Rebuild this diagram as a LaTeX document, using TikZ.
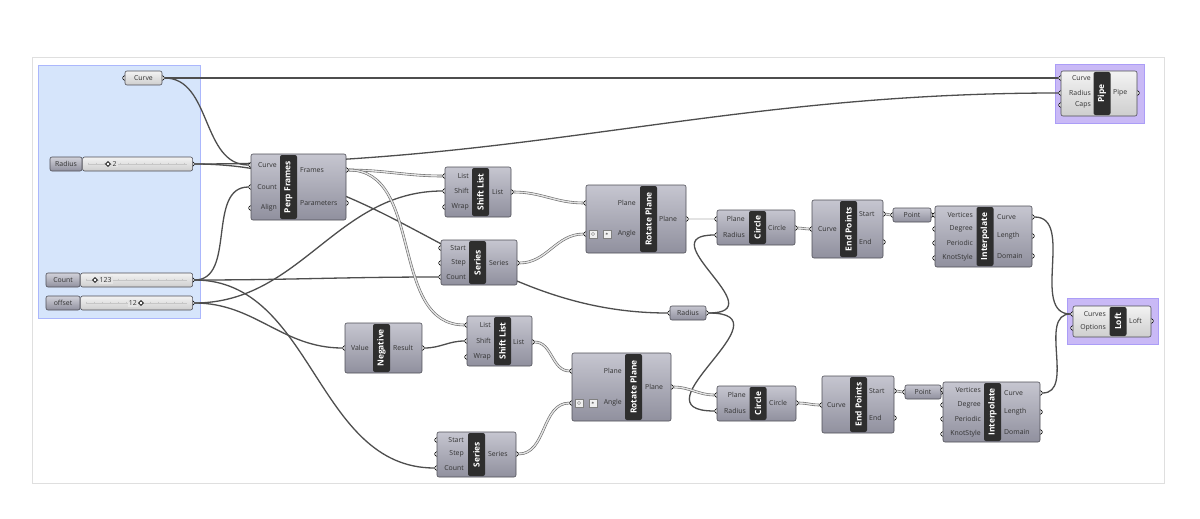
\documentclass[tikz,border=0pt]{standalone}
\usepackage{fontspec}
\setmainfont{Open Sans}
\usepackage{tikz}
\usetikzlibrary{shapes.geometric, positioning, calc}

\definecolor{wirec}{RGB}{78,78,78}
\definecolor{compt}{RGB}{198,198,208}
\definecolor{compb}{RGB}{144,144,158}
\definecolor{litet}{RGB}{243,243,243}
\definecolor{liteb}{RGB}{206,206,206}
\definecolor{tabc}{RGB}{46,46,46}
\definecolor{edgec}{RGB}{78,78,86}
\definecolor{grpblue}{RGB}{214,229,251}
\definecolor{grpviolet}{RGB}{201,185,246}
\newcommand\ghlbl{\fontsize{6.9}{7}\selectfont}

\pgfdeclarelayer{grp}
\pgfdeclarelayer{wires}
\pgfsetlayers{grp,wires,main}

\begin{document}
\begin{tikzpicture}[x=1pt, y=-1pt,
  comp/.style={rectangle, draw=edgec, line width=0.6pt, rounded corners=2pt,
               top color=compt, bottom color=compb, inner sep=0pt,
               font=\ghlbl, text=black!80},
  lite/.style={comp, top color=litet, bottom color=liteb},
  tab/.style={rectangle, rounded corners=2pt, fill=tabc, text=white,
              rotate=90, minimum height=17pt, inner sep=0pt,
              font=\fontsize{8.4}{9}\selectfont\bfseries},
  inlbl/.style={anchor=east, inner sep=0pt, font=\ghlbl, text=black!80},
  outlbl/.style={anchor=west, inner sep=0pt, font=\ghlbl, text=black!80},
  port/.style={circle, draw=black, fill=white, line width=0.6pt,
               inner sep=0pt, minimum size=4.6pt},
  sldlbl/.style={comp, minimum height=14pt, top color=compt!80!white},
  sldtrk/.style={lite, minimum height=14pt},
  knob/.style={diamond, draw=black, fill=white, line width=0.8pt,
               inner sep=0pt, minimum size=5pt},
  sldval/.style={inner sep=1pt, fill=litet!60!liteb, font=\ghlbl, text=black!80},
  icon/.style={rectangle, draw=gray, fill=white!88!gray, inner sep=0pt,
               minimum size=8pt, font=\tiny},
  tick/.style={draw=gray!45, line width=0.3pt},
  grpbox/.style={line width=0.6pt},
  wire/.style={draw=wirec, line width=1.3pt, out=0, in=180},
  lwire/.style={draw=wirec!85, line width=0.6pt, double=white!78!gray,
                double distance=1.4pt, out=0, in=180}
]
\useasboundingbox (0,0) rectangle (1200,519);

% canvas and groups
\begin{pgfonlayer}{grp}
\fill[white] (0,0) rectangle (1200,519);
\draw[gray!25, line width=0.8pt] (32,57) rectangle (1164,483);
\draw[grpbox, fill=grpblue, draw=grpblue!80!blue] (38,65) rectangle (200,318);
\draw[grpbox, fill=grpviolet, draw=grpviolet!85!blue] (1055,64) rectangle (1144,123);
\draw[grpbox, fill=grpviolet, draw=grpviolet!85!blue] (1067,298) rectangle (1158,344);
\end{pgfonlayer}

% Curve parameter
\node[port] (curve-i) at (125,78) {};
\node[port] (curve-o) at (162,78) {};
\node[lite, minimum width=37pt, minimum height=14pt] (curve) at (143.5,78) {Curve};

% sliders
\node[port] (radius-o) at (192,164) {};
\node[sldlbl, minimum width=32pt] (radius-l) at (66,164) {Radius};
\node[sldtrk, minimum width=110pt, right=0pt of radius-l] (radius) {};
\node[port] (count-o) at (192,280) {};
\node[sldlbl, minimum width=34pt] (count-l) at (63,280) {Count};
\node[sldtrk, minimum width=112pt, right=0pt of count-l] (count) {};
\node[port] (offset-o) at (192,303) {};
\node[sldlbl, minimum width=34pt] (offset-l) at (63,303) {offset};
\node[sldtrk, minimum width=112pt, right=0pt of offset-l] (offset) {};
\foreach \s in {radius,count,offset}{
  \draw[tick] ([xshift=6pt]\s.west) -- ([xshift=-6pt]\s.east);
  \foreach \k in {0,...,12}
    \draw[tick] ($(\s.west)+(6+\k*8,-1.4)$) -- ++(0,2.8);
}
\node[sldval, anchor=west] (radius-v) at (111.5,164) {2};
\node[knob] (radius-k) at (108,164) {};
\node[sldval, anchor=west] (count-v) at (98.5,280) {123};
\node[knob] (count-k) at (95,280) {};
\node[sldval, anchor=east] (offset-v) at (138,303) {12};
\node[knob] (offset-k) at (141,303) {};

% Perp Frames
\foreach \y [count=\i] in {165,187,208} \node[port] (pf-i\i) at (251,\y) {};
\foreach \y [count=\i] in {170,203} \node[port] (pf-o\i) at (346,\y) {};
\node[comp, minimum width=95pt, minimum height=66pt] (pf) at (298.5,187) {};
\node[tab, minimum width=64pt] (pf-t) at (288.5,187) {Perp Frames};
\foreach \y/\t [count=\i] in {165/Curve,187/Count,208/Align}
  \node[inlbl] (pf-a\i) at (277,\y) {\t};
\foreach \y/\t [count=\i] in {170/Frames,203/Parameters}
  \node[outlbl] (pf-b\i) at (300,\y) {\t};

% Shift List (upper)
\foreach \y [count=\i] in {176,191,207} \node[port] (sh1-i\i) at (445,\y) {};
\node[port] (sh1-o1) at (511,192) {};
\node[comp, minimum width=66pt, minimum height=50pt] (sh1) at (478,192) {};
\node[tab, minimum width=48pt] (sh1-t) at (480.5,192) {Shift List};
\foreach \y/\t [count=\i] in {176/List,191/Shift,207/Wrap}
  \node[inlbl] (sh1-a\i) at (469,\y) {\t};
\node[outlbl] (sh1-b1) at (492,192) {List};

% Series (upper)
\foreach \y [count=\i] in {248,263,277} \node[port] (se1-i\i) at (441,\y) {};
\node[port] (se1-o1) at (517,263) {};
\node[comp, minimum width=76pt, minimum height=45pt] (se1) at (479,262.5) {};
\node[tab, minimum width=43pt] (se1-t) at (477.5,262.5) {Series};
\foreach \y/\t [count=\i] in {248/Start,263/Step,277/Count}
  \node[inlbl] (se1-a\i) at (466,\y) {\t};
\node[outlbl] (se1-b1) at (489,263) {Series};

% Rotate Plane (upper)
\foreach \y [count=\i] in {203,234} \node[port] (rp1-i\i) at (586,\y) {};
\node[port] (rp1-o1) at (686,219) {};
\node[comp, minimum width=100pt, minimum height=68pt] (rp1) at (636,219) {};
\node[tab, minimum width=66pt] (rp1-t) at (648.5,219) {Rotate Plane};
\foreach \y/\t [count=\i] in {203/Plane,234/Angle}
  \node[inlbl] (rp1-a\i) at (636,\y) {\t};
\node[outlbl] (rp1-b1) at (659,219) {Plane};
\node[icon, path picture={\draw[gray, line width=0.4pt]
  (path picture bounding box.center) circle (1.6pt);}] (rp1-c1) at (593,234) {};
\node[icon] (rp1-c2) at (607,234) {$\ast$};

% Circle (upper)
\foreach \y [count=\i] in {219,235} \node[port] (ci1-i\i) at (717,\y) {};
\node[port] (ci1-o1) at (795,228) {};
\node[comp, minimum width=78pt, minimum height=35pt] (ci1) at (756,227.5) {};
\node[tab, minimum width=33pt] (ci1-t) at (757.5,227.5) {Circle};
\foreach \y/\t [count=\i] in {219/Plane,235/Radius}
  \node[inlbl] (ci1-a\i) at (745,\y) {\t};
\node[outlbl] (ci1-b1) at (768,228) {Circle};

% End Points (upper)
\node[port] (ep1-i1) at (812,229) {};
\foreach \y [count=\i] in {214,242} \node[port] (ep1-o\i) at (883,\y) {};
\node[comp, minimum width=71pt, minimum height=58pt] (ep1) at (847.5,229) {};
\node[tab, minimum width=56pt] (ep1-t) at (848.5,229) {End Points};
\node[inlbl] (ep1-a1) at (837,229) {Curve};
\foreach \y/\t [count=\i] in {214/Start,242/End}
  \node[outlbl] (ep1-b\i) at (859,\y) {\t};

% Point (upper)
\node[port] (pt1-i) at (893,215) {};
\node[port] (pt1-o) at (931,215) {};
\node[comp, minimum width=38pt, minimum height=14pt] (pt1) at (912,215) {Point};

% Interpolate (upper)
\foreach \y [count=\i] in {215,229,243,258} \node[port] (ip1-i\i) at (935,\y) {};
\foreach \y [count=\i] in {217,236,256} \node[port] (ip1-o\i) at (1032,\y) {};
\node[comp, minimum width=97pt, minimum height=61pt] (ip1) at (983.5,236.5) {};
\node[tab, minimum width=59pt] (ip1-t) at (985,236.5) {Interpolate};
\foreach \y/\t [count=\i] in {215/Vertices,229/Degree,243/Periodic,258/KnotStyle}
  \node[inlbl] (ip1-a\i) at (973,\y) {\t};
\foreach \y/\t [count=\i] in {217/Curve,236/Length,256/Domain}
  \node[outlbl] (ip1-b\i) at (997,\y) {\t};

% Pipe
\foreach \y [count=\i] in {78,93,105} \node[port] (pipe-i\i) at (1061,\y) {};
\node[port] (pipe-o1) at (1137,93) {};
\node[lite, minimum width=76pt, minimum height=45pt] (pipe) at (1099,93.5) {};
\node[tab, minimum width=43pt] (pipe-t) at (1102,93.5) {Pipe};
\foreach \y/\t [count=\i] in {78/Curve,93/Radius,105/Caps}
  \node[inlbl] (pipe-a\i) at (1091,\y) {\t};
\node[outlbl] (pipe-b1) at (1113,93) {Pipe};

% Loft
\foreach \y [count=\i] in {314,328} \node[port] (loft-i\i) at (1073,\y) {};
\node[port] (loft-o1) at (1151,321) {};
\node[lite, minimum width=78pt, minimum height=31pt] (loft) at (1112,321.5) {};
\node[tab, minimum width=29pt] (loft-t) at (1118,321.5) {Loft};
\foreach \y/\t [count=\i] in {314/Curves,328/Options}
  \node[inlbl] (loft-a\i) at (1106,\y) {\t};
\node[outlbl] (loft-b1) at (1129,321) {Loft};

% Radius parameter
\node[port] (rad-i) at (670,313) {};
\node[port] (rad-o) at (706,313) {};
\node[comp, minimum width=36pt, minimum height=14pt] (rad) at (688,313) {Radius};

% Negative
\node[port] (neg-i1) at (345,348) {};
\node[port] (neg-o1) at (422,348) {};
\node[comp, minimum width=77pt, minimum height=50pt] (neg) at (383.5,348) {};
\node[tab, minimum width=48pt] (neg-t) at (381.5,348) {Negative};
\node[inlbl] (neg-a1) at (369,348) {Value};
\node[outlbl] (neg-b1) at (393,348) {Result};

% Shift List (lower)
\foreach \y [count=\i] in {325,341,357} \node[port] (sh2-i\i) at (467,\y) {};
\node[port] (sh2-o1) at (532,342) {};
\node[comp, minimum width=65pt, minimum height=50pt] (sh2) at (499.5,341) {};
\node[tab, minimum width=48pt] (sh2-t) at (502.5,341) {Shift List};
\foreach \y/\t [count=\i] in {325/List,341/Shift,357/Wrap}
  \node[inlbl] (sh2-a\i) at (491,\y) {\t};
\node[outlbl] (sh2-b1) at (513,342) {List};

% Series (lower)
\foreach \y [count=\i] in {440,454,468} \node[port] (se2-i\i) at (437,\y) {};
\node[port] (se2-o1) at (516,454) {};
\node[comp, minimum width=79pt, minimum height=45pt] (se2) at (476.5,454.5) {};
\node[tab, minimum width=43pt] (se2-t) at (476.5,454.5) {Series};
\foreach \y/\t [count=\i] in {440/Start,454/Step,468/Count}
  \node[inlbl] (se2-a\i) at (464,\y) {\t};
\node[outlbl] (se2-b1) at (488,454) {Series};

% Rotate Plane (lower)
\foreach \y [count=\i] in {371,403} \node[port] (rp2-i\i) at (572,\y) {};
\node[port] (rp2-o1) at (671,387) {};
\node[comp, minimum width=99pt, minimum height=68pt] (rp2) at (621.5,387) {};
\node[tab, minimum width=66pt] (rp2-t) at (633.5,387) {Rotate Plane};
\foreach \y/\t [count=\i] in {371/Plane,403/Angle}
  \node[inlbl] (rp2-a\i) at (622,\y) {\t};
\node[outlbl] (rp2-b1) at (645,387) {Plane};
\node[icon, path picture={\draw[gray, line width=0.4pt]
  (path picture bounding box.center) circle (1.6pt);}] (rp2-c1) at (579,403) {};
\node[icon] (rp2-c2) at (593,403) {$\ast$};

% Circle (lower)
\foreach \y [count=\i] in {395,411} \node[port] (ci2-i\i) at (717,\y) {};
\node[port] (ci2-o1) at (796,403) {};
\node[comp, minimum width=79pt, minimum height=35pt] (ci2) at (756.5,403.5) {};
\node[tab, minimum width=33pt] (ci2-t) at (758,403.5) {Circle};
\foreach \y/\t [count=\i] in {395/Plane,411/Radius}
  \node[inlbl] (ci2-a\i) at (746,\y) {\t};
\node[outlbl] (ci2-b1) at (769,403) {Circle};

% End Points (lower)
\node[port] (ep2-i1) at (822,405) {};
\foreach \y [count=\i] in {391,418} \node[port] (ep2-o\i) at (894,\y) {};
\node[comp, minimum width=72pt, minimum height=57pt] (ep2) at (858,404.5) {};
\node[tab, minimum width=55pt] (ep2-t) at (858.5,404.5) {End Points};
\node[inlbl] (ep2-a1) at (846,405) {Curve};
\foreach \y/\t [count=\i] in {391/Start,418/End}
  \node[outlbl] (ep2-b\i) at (869,\y) {\t};

% Point (lower)
\node[port] (pt2-i) at (905,392) {};
\node[port] (pt2-o) at (941,392) {};
\node[comp, minimum width=36pt, minimum height=14pt] (pt2) at (923,392) {Point};

% Interpolate (lower)
\foreach \y [count=\i] in {390,405,419,434} \node[port] (ip2-i\i) at (943,\y) {};
\foreach \y [count=\i] in {393,412,432} \node[port] (ip2-o\i) at (1040,\y) {};
\node[comp, minimum width=97pt, minimum height=60pt] (ip2) at (991.5,412) {};
\node[tab, minimum width=58pt] (ip2-t) at (992.5,412) {Interpolate};
\foreach \y/\t [count=\i] in {390/Vertices,405/Degree,419/Periodic,434/KnotStyle}
  \node[inlbl] (ip2-a\i) at (981,\y) {\t};
\foreach \y/\t [count=\i] in {393/Curve,412/Length,432/Domain}
  \node[outlbl] (ip2-b\i) at (1004,\y) {\t};

% wires
\begin{pgfonlayer}{wires}
\draw[wire] (curve-o) to (pipe-i1);
\draw[wire] (curve-o) to (pf-i1);
\draw[wire] (radius-o) to (pipe-i2);
\draw[wire] (radius-o) to (rad-i);
\draw[wire] (count-o) to (pf-i2);
\draw[wire] (count-o) to (se1-i3);
\draw[wire] (count-o) to (se2-i3);
\draw[wire] (offset-o) to (sh1-i2);
\draw[wire] (offset-o) to (neg-i1);
\draw[wire] (neg-o1) to (sh2-i2);
\draw[wire, looseness=2.2] (rad-o) to (ci1-i2);
\draw[wire, looseness=2.2] (rad-o) to (ci2-i2);
\draw[wire] (ip1-o1) to (loft-i1);
\draw[wire] (ip2-o1) to (loft-i1);
\draw[lwire] (pf-o1) to (sh1-i1);
\draw[lwire] (pf-o1) to (sh2-i1);
\draw[lwire] (sh1-o1) to (rp1-i1);
\draw[lwire] (se1-o1) to (rp1-i2);
\draw[lwire] (rp1-o1) to (ci1-i1);
\draw[lwire] (ci1-o1) to (ep1-i1);
\draw[lwire] (ep1-o1) to (pt1-i);
\draw[lwire] (pt1-o) to (ip1-i1);
\draw[lwire] (sh2-o1) to (rp2-i1);
\draw[lwire] (se2-o1) to (rp2-i2);
\draw[lwire] (rp2-o1) to (ci2-i1);
\draw[lwire] (ci2-o1) to (ep2-i1);
\draw[lwire] (ep2-o1) to (pt2-i);
\draw[lwire] (pt2-o) to (ip2-i1);
\end{pgfonlayer}
\end{tikzpicture}
\end{document}
